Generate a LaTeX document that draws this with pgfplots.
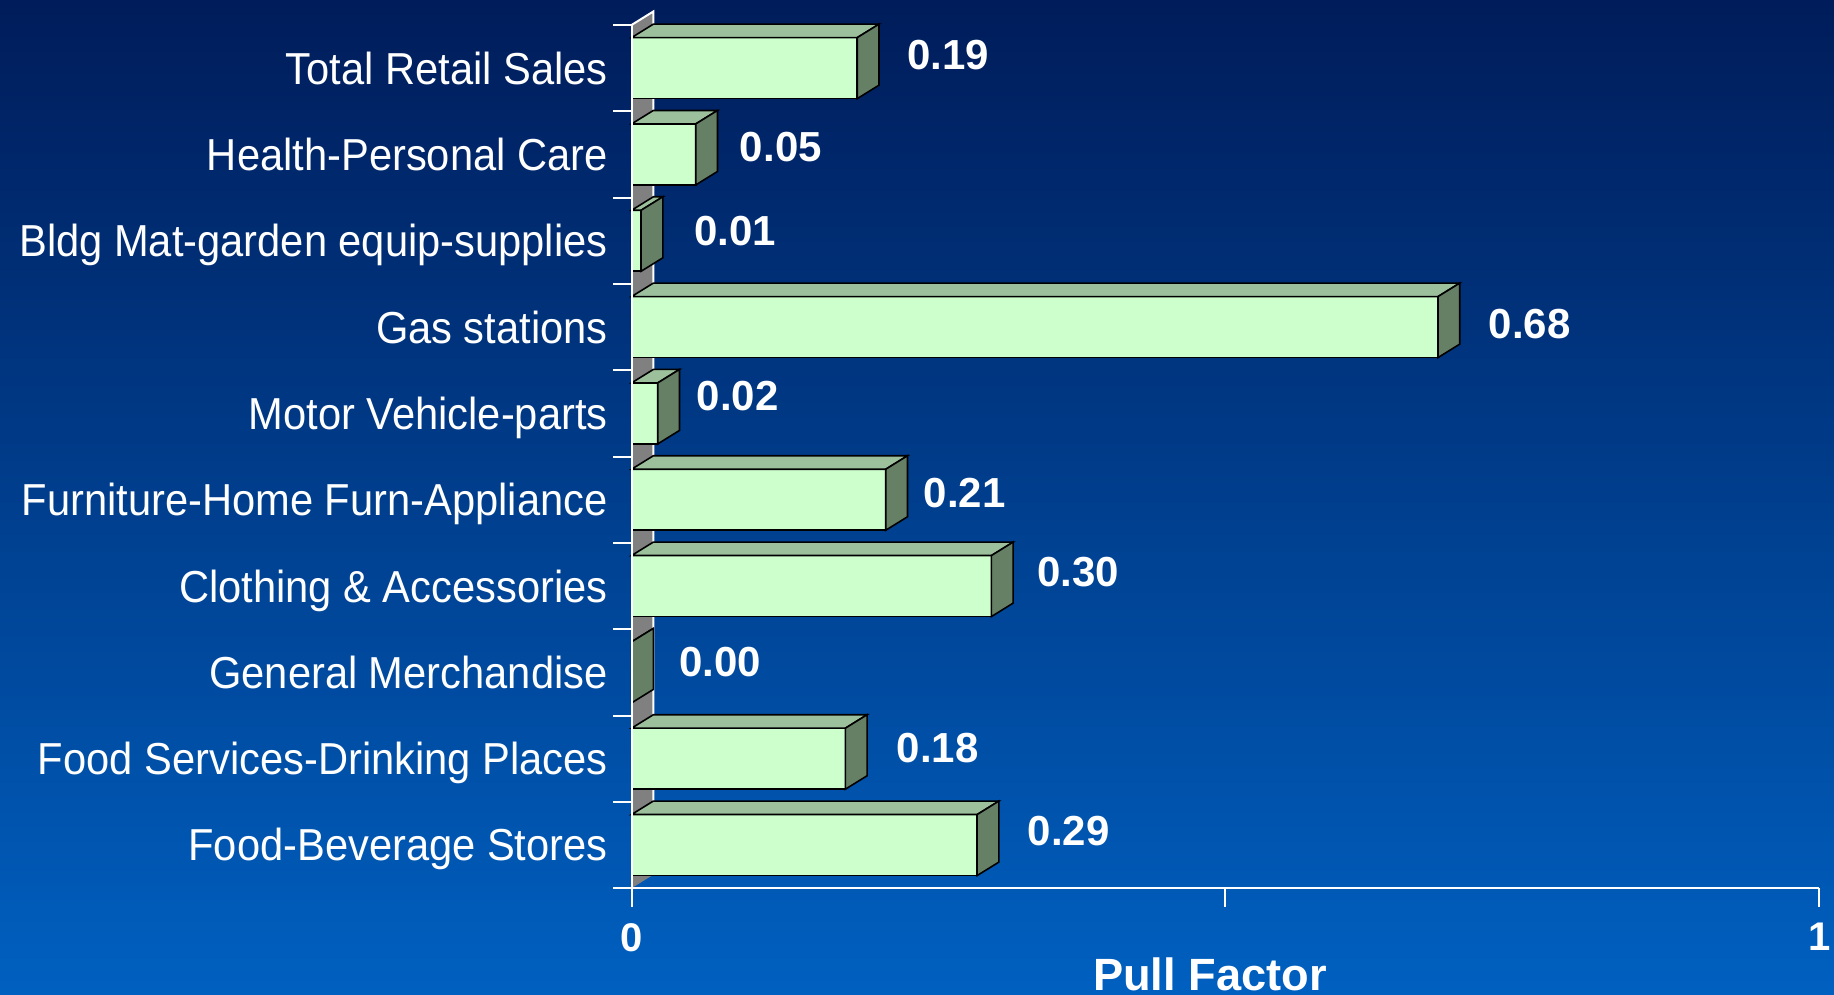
\documentclass[border=0pt]{standalone}
\usepackage{fontspec}
\setmainfont{Liberation Sans}
\newfontfamily\catfont{Liberation Sans}[FakeStretch=0.93]
\usepackage{pgfplots}
\usepackage{pgfplotstable}
\pgfplotsset{compat=1.18}

\definecolor{bgtop}{RGB}{0,28,90}
\definecolor{bgbot}{RGB}{0,96,192}
\definecolor{barfront}{RGB}{204,255,204}
\definecolor{bartop}{RGB}{156,192,156}
\definecolor{barside}{RGB}{102,128,102}
\definecolor{wallgray}{RGB}{128,128,128}

% pull factor by category, bottom (y=0) to top (y=9)
% v = bar length, lab = printed value, lx/ly = where the printed value sits
\pgfplotstableread{
y v     lab  lx     ly
0 0.291 0.29 0.333  0.159
1 0.180 0.18 0.2227 0.121
2 0.000 0.00 0.0394 0.123
3 0.303 0.30 0.3409 0.167
4 0.214 0.21 0.2453 0.075
5 0.022 0.02 0.0542 0.199
6 0.679 0.68 0.7212 0.039
7 0.008 0.01 0.0522 0.110
8 0.054 0.05 0.0906 0.085
9 0.190 0.19 0.2315 0.156
}\pulldata

% depth of the 3D effect and half bar height, in axis units
\def\dX{0.0183}
\def\dY{0.156}
\def\hB{0.3535}

\begin{document}
\begin{tikzpicture}
\useasboundingbox (0,0) rectangle (458.5pt,248.75pt);
\clip (0,0) rectangle (458.5pt,248.75pt);
\shade[top color=bgtop, bottom color=bgbot] (0,0) rectangle (458.5pt,248.75pt);
\begin{axis}[
    at={(157.9pt,26.7pt)}, anchor=south west,
    scale only axis, width=296.9pt, height=215.8pt,
    xmin=0, xmax=1, ymin=-0.5, ymax=9.5,
    axis lines*=left,
    axis line style={white, line width=0.5pt},
    axis on top, clip=false,
    tick align=outside, major tick length=4.6pt,
    tick style={white, line width=0.5pt},
    xtick={0,0.5,1}, xticklabels={0,,1},
    xticklabel style={text=white, font=\bfseries\fontsize{10}{12}\selectfont, yshift=-0.6pt},
    ytick={-0.5,0.5,...,9.5},
    yticklabels={Food-Beverage Stores, Food Services-Drinking Places, General Merchandise,
      Clothing \& Accessories, Furniture-Home Furn-Appliance, Motor Vehicle-parts,
      Gas stations, Bldg Mat-garden equip-supplies, Health-Personal Care, Total Retail Sales, {}},
    yticklabel style={text=white, font=\catfont\fontsize{11.2}{13}\selectfont,
      anchor=base east, inner sep=0pt, yshift=6.8pt, xshift=-1.2pt},
    xlabel={Pull Factor},
    xlabel style={at={(axis description cs:0.487,-0.119)}, anchor=base, text=white,
      font=\bfseries\fontsize{11.3}{13}\selectfont},
]
% back wall
\addplot[fill=wallgray, draw=none] coordinates {(0,-0.5) (0.0183,-0.344) (0.0183,9.656) (0,9.5)} -- cycle;
\addplot[white, line width=0.5pt] coordinates {(0,9.5) (0.0183,9.656) (0.0183,-0.344)};
% front faces
\addplot[xbar, bar width=0.707, fill=barfront, draw=black, line width=0.4pt] table[x=v, y=y] {\pulldata};
% top and side faces
\pgfplotsinvokeforeach{0,...,9}{
  \pgfplotstablegetelem{#1}{v}\of\pulldata
  \pgfmathsetmacro\vv{\pgfplotsretval}
  \pgfmathsetmacro\xe{\vv+\dX}
  \pgfmathsetmacro\ylo{#1-\hB}
  \pgfmathsetmacro\yhi{#1+\hB}
  \pgfmathsetmacro\ylob{#1-\hB+\dY}
  \pgfmathsetmacro\yhib{#1+\hB+\dY}
  \edef\faces{%
    \noexpand\addplot[fill=bartop, draw=black, line width=0.4pt] coordinates {(0,\yhi) (\vv,\yhi) (\xe,\yhib) (\dX,\yhib)} -- cycle;
    \noexpand\addplot[fill=barside, draw=black, line width=0.4pt] coordinates {(\vv,\ylo) (\xe,\ylob) (\xe,\yhib) (\vv,\yhi)} -- cycle;
  }
  \faces
}
% value labels
\addplot[draw=none, nodes near coords, point meta=explicit symbolic,
  every node near coord/.append style={anchor=west, inner sep=0pt, text=white,
    font=\bfseries\fontsize{10.5}{12}\selectfont}]
  table[x=lx, y expr=\thisrow{y}+\thisrow{ly}, meta=lab] {\pulldata};
\end{axis}
\end{tikzpicture}
\end{document}
